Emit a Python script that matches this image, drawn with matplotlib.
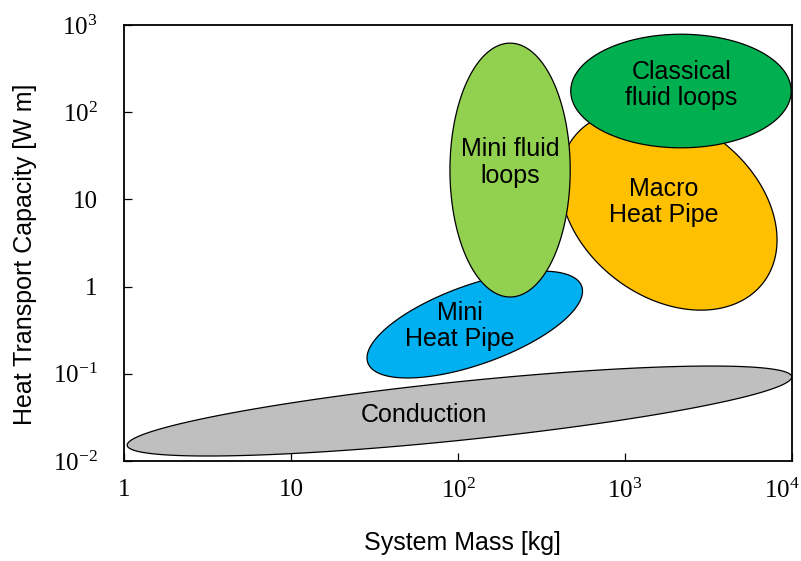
import numpy as np
import matplotlib
matplotlib.use('Agg')
import matplotlib.pyplot as plt
from matplotlib.transforms import ScaledTranslation

plt.rcParams['font.family'] = 'Liberation Sans'
plt.rcParams['mathtext.fontset'] = 'custom'
plt.rcParams['mathtext.rm'] = 'Liberation Serif'

# technology regions (ellipses drawn in log-log space)
# order = drawing order (later ones sit on top)
names = ['Conduction', 'Mini\nHeat Pipe', 'Macro\nHeat Pipe', 'Classical\nfluid loops', 'Mini fluid\nloops']
colors = ['#BFBFBF', '#00B0F0', '#FFC000', '#00B050', '#92D050']
mass_center = [102, 126, 1821, 2163, 205]        # kg
cap_center = [0.0374, 0.367, 7.55, 175, 21.7]    # W m
half_long = [2.0, 0.68, 0.715, 0.66, 0.76]      # in decades of mass
half_short = [0.175, 0.237, 0.52, 0.34, 0.36]
tilt = [5.9, 19.7, -37.4, 0, 90]                 # degrees as seen on screen

# where the region names sit
label_mass = [62.5, 102.8, 1712, 2180, 205]
label_cap = [0.0338, 0.353, 9.33, 205, 26.5]

xticks = [1, 10, 100, 1000, 10000]
xtick_labels = ['1', '10', r'$\mathrm{10^{2}}$', r'$\mathrm{10^{3}}$', r'$\mathrm{10^{4}}$']
yticks = [0.01, 0.1, 1, 10, 100, 1000]
ytick_labels = [r'$\mathrm{10^{-2}}$', r'$\mathrm{10^{-1}}$', '1', '10', r'$\mathrm{10^{2}}$', r'$\mathrm{10^{3}}$']

fig = plt.figure(figsize=(8.01, 5.61), dpi=100)
ax = fig.add_axes([0.1548, 0.1783, 0.834, 0.7771])
ax.set_xscale('log')
ax.set_yscale('log')
ax.set_xlim(1, 1e4)
ax.set_ylim(1e-2, 1e3)

# ratio of screen length of a y decade to an x decade
pos = ax.get_position()
w_in = pos.width * fig.get_figwidth()
h_in = pos.height * fig.get_figheight()
ratio = (h_in / 5) / (w_in / 4)

t = np.linspace(0, 2 * np.pi, 500)
for i in range(len(names)):
    th = np.radians(tilt[i])
    u = half_long[i] * np.cos(t) * np.cos(th) - half_short[i] * np.sin(t) * np.sin(th)
    v = half_long[i] * np.cos(t) * np.sin(th) + half_short[i] * np.sin(t) * np.cos(th)
    lx = np.log10(mass_center[i]) + u
    ly = np.log10(cap_center[i]) + v / ratio
    ax.fill(10 ** lx, 10 ** ly, facecolor=colors[i], edgecolor='black', linewidth=0.9, zorder=2 + i)

for i in range(len(names)):
    ax.text(label_mass[i], label_cap[i], names[i], ha='center', va='center',
            fontsize=18, linespacing=1.15, zorder=10)

ax.set_xticks(xticks)
ax.set_xticklabels(xtick_labels, fontfamily='Liberation Serif', fontsize=18)
ax.set_yticks(yticks)
ax.set_yticklabels(ytick_labels, fontfamily='Liberation Serif', fontsize=18)
ax.minorticks_off()
ax.tick_params(axis='both', direction='in', length=6, width=0.9)
ax.tick_params(axis='x', pad=13)
ax.tick_params(axis='y', pad=19)
for s in ax.spines.values():
    s.set_linewidth(1.3)

# last x label is pulled in a bit so it stays inside the figure
last = ax.get_xticklabels()[-1]
last.set_transform(last.get_transform() + ScaledTranslation(-0.1, 0, fig.dpi_scale_trans))

ax.set_xlabel('System Mass [kg]', fontsize=18)
ax.set_ylabel('Heat Transport Capacity [W m]', fontsize=18)
ax.xaxis.set_label_coords(0.507, -0.161)
ax.yaxis.set_label_coords(-0.130, 0.473)

fig.savefig('out.png', dpi=100)
